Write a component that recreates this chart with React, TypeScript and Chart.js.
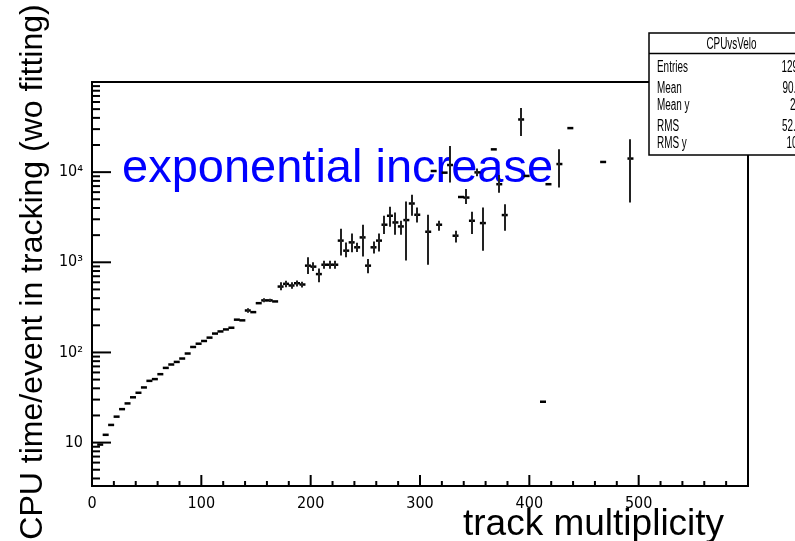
import React, { useEffect, useRef } from "react";
import { Chart, registerables } from "chart.js";

Chart.register(...registerables);

// ---- data ----
const binCenters = [
  7.5, 12.5, 17.5, 22.5, 27.5, 32.5, 37.5, 42.5, 47.5, 52.5,
  57.5, 62.5, 67.5, 72.5, 77.5, 82.5, 87.5, 92.5, 97.5, 102.5,
  107.5, 112.5, 117.5, 122.5, 127.5, 132.5, 137.5, 142.5, 147.5, 152.5,
  157.5, 162.5, 167.5, 172.5, 177.5, 182.5, 187.5, 192.5, 197.5, 202.5,
  207.5, 212.5, 217.5, 222.5, 227.5, 232.5, 237.5, 242.5, 247.5, 252.5,
  257.5, 262.5, 267.5, 272.5, 277.5, 282.5, 287.5, 292.5, 297.5, 307.5,
  312.5, 317.5, 322.5, 327.5, 332.5, 337.5, 342.5, 347.5, 352.5, 357.5,
  367.5, 372.5, 377.5, 392.5, 397.5, 412.5, 417.5, 427.5, 437.5, 467.5,
  492.5,
];

const cpuTime = [
  9.5, 12.2, 15.7, 19.4, 23.5, 27.2, 31.8, 35.7, 40.9, 48.4,
  50.6, 57.4, 67.4, 73.5, 78.5, 85.6, 97.3, 115, 125, 134,
  146, 162, 171, 180, 188, 231, 227, 292, 280, 352,
  378, 378, 368, 538, 577, 553, 586, 567, 918, 895,
  740, 940, 940, 940, 1740, 1346, 1663, 1466, 1888, 918,
  1466, 1740, 2612, 3283, 2767, 2500, 2940, 4490, 3368, 2183,
  10300, 2612, 9870, 12000, 1972, 5300, 5224, 2890, 9940, 2723,
  17900, 7350, 3342, 38400, 9080, 28.4, 7350, 12300, 30800, 12970,
  14150,
];

const errLow: (number | null)[] = [
  null, null, null, null, null, null, null, null, null, null,
  null, null, null, null, null, null, null, null, null, null,
  null, null, null, null, null, null, null, 275, null, null,
  360, 362, null, 490, 530, 510, 540, 525, 743, 800,
  601, 850, 850, 850, 1186, 1135, 1290, 1300, 1156, 755,
  1250, 1320, 2060, 2480, 2023, 2023, 1045, 3280, 2767, 942,
  null, 2240, null, 7660, 1660, null, 4440, 2065, 9000, 1346,
  null, 5890, 2240, 25100, null, null, null, 6750, null, null,
  4600,
];

const errHigh: (number | null)[] = [
  null, null, null, null, null, null, null, null, null, null,
  null, null, null, null, null, null, null, null, null, null,
  null, null, null, null, null, null, null, 310, null, null,
  400, 395, null, 600, 625, 600, 630, 610, 1135, 1000,
  851, 1040, 1040, 1040, 2355, 1663, 2090, 1650, 2610, 1090,
  1700, 2090, 3280, 4120, 3565, 2885, 4720, 5600, 4055, 3368,
  null, 2885, null, 19500, 2240, null, 6500, 3630, 11000, 4055,
  null, 9300, 4415, 51600, null, null, null, 17900, null, null,
  23100,
];

const xTickValues = [0, 100, 200, 300, 400, 500, 600];
const xTickLabels = ["0", "100", "200", "300", "400", "500", ""];
const yTickValues = [10, 100, 1000, 10000];
const yTickLabels = ["10", "10\u00B2", "10\u00B3", "10\u2074"];

const statsTitle = "CPUvsVelo";
const statsLabels = ["Entries", "Mean", "Mean y", "RMS", "RMS y"];
const statsValues = ["129", "90.", "2", "52.", "10"];

const yTitle = "CPU time/event in tracking (wo fitting)";
const xTitle = "track multiplicity";
const annotation = "exponential increase";

const X_MIN = 0;
const X_MAX = 600;
const Y_MIN = 3.3;
const Y_MAX = 100000;
const X_MINOR_STEP = 20;

const SANS = '"Liberation Sans", Arial, sans-serif';
const NARROW = '"Liberation Sans Narrow", "DejaVu Sans Condensed", "Liberation Sans", sans-serif';

const rootPlugin = {
  id: "rootStyle",
  beforeDatasetsDraw(chart: any) {
    const { ctx } = chart;
    ctx.save();
    ctx.fillStyle = "#0000ff";
    ctx.font = `47px ${SANS}`;
    ctx.textAlign = "left";
    ctx.textBaseline = "alphabetic";
    ctx.fillText(annotation, 122, 182);
    ctx.restore();
  },
  afterDatasetsDraw(chart: any) {
    const { ctx, scales } = chart;
    const xs = scales.x;
    const ys = scales.y;
    ctx.save();
    ctx.strokeStyle = "#222";
    ctx.lineWidth = 2;
    for (let i = 0; i < binCenters.length; i++) {
      const lo = errLow[i];
      const hi = errHigh[i];
      if (lo == null || hi == null) continue;
      const px = Math.round(xs.getPixelForValue(binCenters[i])) + 0.0;
      ctx.beginPath();
      ctx.moveTo(px, ys.getPixelForValue(lo));
      ctx.lineTo(px, ys.getPixelForValue(hi));
      ctx.stroke();
    }
    ctx.restore();
  },
  afterDraw(chart: any) {
    const { ctx, chartArea: a, scales } = chart;
    const xs = scales.x;
    const ys = scales.y;
    ctx.save();
    ctx.strokeStyle = "#000";
    ctx.lineWidth = 2;
    // frame
    ctx.strokeRect(a.left, a.top, a.right - a.left, a.bottom - a.top);
    // x ticks (inside)
    for (let v = X_MIN; v < X_MAX; v += X_MINOR_STEP) {
      const px = xs.getPixelForValue(v);
      const len = v % 100 === 0 ? 11 : 5;
      ctx.beginPath();
      ctx.moveTo(px, a.bottom);
      ctx.lineTo(px, a.bottom - len);
      ctx.stroke();
    }
    // y ticks (inside, log)
    for (let e = 0; e <= 5; e++) {
      for (let m = 1; m <= 9; m++) {
        const v = m * Math.pow(10, e);
        if (v < Y_MIN || v >= Y_MAX) continue;
        const py = ys.getPixelForValue(v);
        const len = m === 1 ? 19 : 8;
        ctx.beginPath();
        ctx.moveTo(a.left, py);
        ctx.lineTo(a.left + len, py);
        ctx.stroke();
      }
    }
    // axis titles
    ctx.fillStyle = "#000";
    ctx.font = `32px ${SANS}`;
    ctx.textAlign = "center";
    ctx.textBaseline = "alphabetic";
    ctx.save();
    ctx.translate(42, 272);
    ctx.rotate(-Math.PI / 2);
    ctx.fillText(yTitle, 0, 0);
    ctx.restore();
    ctx.font = `37px ${SANS}`;
    ctx.textAlign = "left";
    ctx.fillText(xTitle, 463, 535);

    // stats box
    const bx = 649, by = 33, bw = 170, bh = 122;
    ctx.fillStyle = "#fff";
    ctx.fillRect(bx, by, bw, bh);
    ctx.lineWidth = 1.5;
    ctx.strokeStyle = "#000";
    ctx.strokeRect(bx, by, bw, bh);
    ctx.beginPath();
    ctx.moveTo(bx, 53.5);
    ctx.lineTo(bx + bw, 53.5);
    ctx.stroke();
    ctx.fillStyle = "#000";
    ctx.font = `16px ${SANS}`;
    const drawNarrow = (t: string, x: number, y: number, align: CanvasTextAlign) => {
      ctx.save();
      ctx.translate(x, y);
      ctx.scale(0.62, 1);
      ctx.textAlign = align;
      ctx.fillText(t, 0, 0);
      ctx.restore();
    };
    drawNarrow(statsTitle, 731.5, 49, "center");
    const rowY = [71.5, 92.5, 110, 131, 148];
    const valX = [781.5, 782.5, 790, 782, 786.5];
    for (let i = 0; i < statsLabels.length; i++) {
      drawNarrow(statsLabels[i], 657, rowY[i], "left");
      drawNarrow(statsValues[i], valX[i], rowY[i], "left");
    }
    ctx.restore();
  },
};

export default function App() {
  const canvasRef = useRef<HTMLCanvasElement | null>(null);

  useEffect(() => {
    const canvas = canvasRef.current;
    if (!canvas) return;
    const chart = new Chart(canvas, {
      type: "scatter",
      data: {
        datasets: [
          {
            data: binCenters.map((x, i) => ({ x, y: cpuTime[i] })),
            pointStyle: "line",
            pointRadius: 3,
            pointBorderWidth: 2.5,
            pointBorderColor: "#000",
            pointBackgroundColor: "#000",
            borderColor: "#000",
            showLine: false,
          } as any,
        ],
      },
      options: {
        animation: false,
        responsive: false,
        maintainAspectRatio: false,
        devicePixelRatio: 1,
        layout: { padding: { left: 0, top: 82, right: 47, bottom: 0 } },
        plugins: {
          legend: { display: false },
          tooltip: { enabled: false },
        },
        scales: {
          x: {
            type: "linear",
            min: X_MIN,
            max: X_MAX,
            afterFit: (s: any) => {
              s.height = 55;
            },
            afterBuildTicks: (s: any) => {
              s.ticks = xTickValues.map((v) => ({ value: v }));
            },
            ticks: {
              autoSkip: false,
              maxRotation: 0,
              padding: 8,
              color: "#000",
              font: { family: NARROW, size: 16 },
              callback: (v: any) => xTickLabels[xTickValues.indexOf(Number(v))] ?? "",
            },
            grid: { display: false, drawTicks: false },
            border: { display: false },
          },
          y: {
            type: "logarithmic",
            min: Y_MIN,
            max: Y_MAX,
            afterFit: (s: any) => {
              s.width = 92;
            },
            afterBuildTicks: (s: any) => {
              s.ticks = yTickValues.map((v) => ({ value: v, major: true }));
            },
            ticks: {
              autoSkip: false,
              padding: 9,
              color: "#000",
              font: { family: NARROW, size: 16 },
              callback: (v: any) => yTickLabels[yTickValues.indexOf(Number(v))] ?? "",
            },
            grid: { display: false, drawTicks: false },
            border: { display: false },
          },
        },
      } as any,
      plugins: [rootPlugin as any],
    });
    return () => chart.destroy();
  }, []);

  return (
    <div
      style={{
        position: "absolute",
        left: 0,
        top: 0,
        width: 795,
        height: 541,
        background: "#fff",
        overflow: "hidden",
      }}
    >
      <canvas ref={canvasRef} width={795} height={541} style={{ display: "block" }} />
    </div>
  );
}
